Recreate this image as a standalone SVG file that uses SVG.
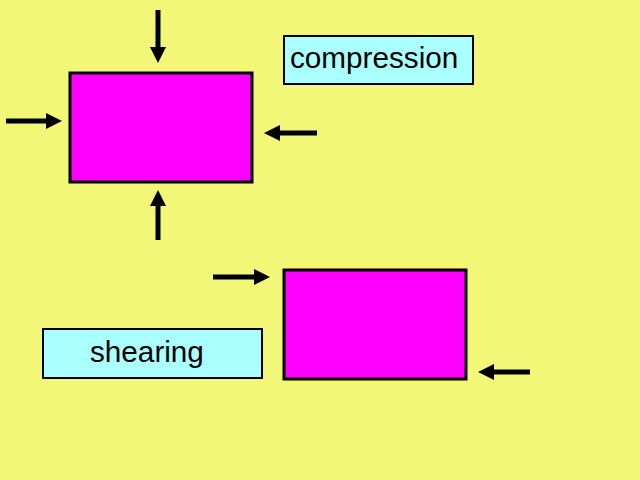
<svg xmlns="http://www.w3.org/2000/svg" width="640" height="480" viewBox="0 0 640 480">
<style>
.block{fill:#FF00FF;stroke:#000;stroke-width:3}
.label{fill:#AAFFFF;stroke:#000;stroke-width:2}
.txt{font-family:"Liberation Sans",Arial,sans-serif;font-size:29.7px;fill:#000}
.arrow{stroke:#000;stroke-width:5;fill:none;marker-end:url(#head)}
</style>
<defs>
<marker id="head" markerUnits="userSpaceOnUse" markerWidth="16" markerHeight="16" refX="4" refY="8" orient="auto" viewBox="0 0 16 16">
<path d="M0,0 L16,8 L0,16 z" fill="#000"/>
</marker>
</defs>
<rect width="640" height="480" fill="#F3F777"/>
<g id="block1"><rect class="block" x="70" y="73" width="182" height="109"/></g>
<g id="block2"><rect class="block" x="284" y="270" width="182" height="109"/></g>
<g id="compression"><rect class="label" x="284" y="36" width="189" height="48"/><text class="txt" x="290" y="68">compression</text></g>
<g id="shearing"><rect class="label" x="43" y="329" width="219" height="49"/><text class="txt" x="90" y="362">shearing</text></g>
<g id="connectors">
<line class="arrow" x1="158" y1="10" x2="158" y2="51"/>
<line class="arrow" x1="6" y1="121" x2="50" y2="121"/>
<line class="arrow" x1="317" y1="133" x2="276" y2="133"/>
<line class="arrow" x1="158" y1="240" x2="158" y2="202"/>
<line class="arrow" x1="213" y1="277" x2="258" y2="277"/>
<line class="arrow" x1="530" y1="372" x2="490" y2="372"/>
</g>
</svg>
